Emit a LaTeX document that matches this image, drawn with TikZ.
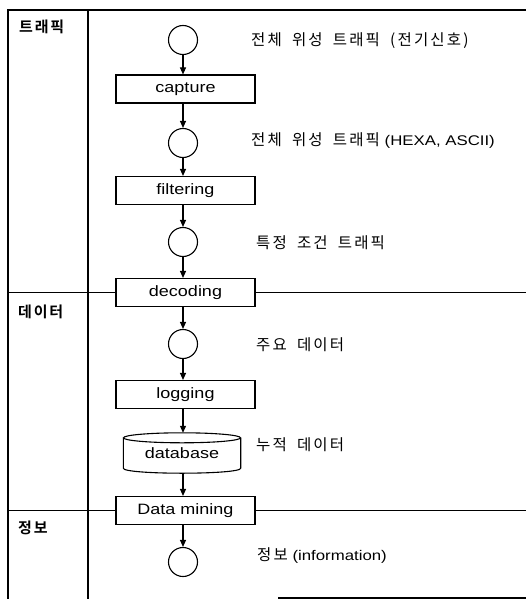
\documentclass[tikz,border=0pt]{standalone}
\usepackage{fontspec}
\setmainfont{Liberation Sans}[FakeStretch=1.2]
\newfontfamily\kr{Noto Sans CJK KR}[LetterSpace=14, WordSpace=1.8]
\newfontfamily\krb{Noto Sans CJK KR Bold}[LetterSpace=12]
\newcommand{\K}[1]{{\kr\fontsize{15.5}{17}\selectfont #1}}
\usetikzlibrary{arrows.meta,calc}
\begin{document}
\begin{tikzpicture}[x=1pt,y=-1pt,
  proc/.style={draw, line width=1.1pt, minimum width=139pt, minimum height=28pt, inner sep=0pt, font=\fontsize{15}{17}\selectfont},
  state/.style={draw, circle, line width=1.1pt, minimum size=29pt, inner sep=0pt},
  lbl/.style={anchor=west, inner sep=0pt, font=\fontsize{14}{16}\selectfont},
  sec/.style={anchor=west, inner sep=0pt, font=\krb\fontsize{15}{17}\selectfont},
  flow/.style={line width=1.1pt, -{Triangle[length=7pt,width=6pt]}},
  rule/.style={line width=1.2pt},
  frame/.style={line width=2.2pt}]
\useasboundingbox (0,0) rectangle (526,599);
% frame
\coordinate (tl) at (8,10);
\coordinate (tr) at (526,10);
\coordinate (bl) at (8,599);
\coordinate (dt) at (88,10);
\coordinate (dbm) at (88,599);
\coordinate (b1) at (278,598);
\coordinate (b2) at (526,598);
\draw[frame] (tr) -- (tl) -- (bl);
\draw[rule] (dt) -- (dbm);
\draw[rule] (b1) -- (b2);
% section labels
\node[sec] (s1) at (19,27) {트래픽};
\node[sec] (s2) at (18,312) {데이터};
\node[sec] (s3) at (18,528) {정보};
% flow nodes
\node[state] (c1) at (183,40) {};
\node[proc] (capture) at (185.5,89) {capture};
\node[state] (c2) at (183,143) {};
\node[proc] (filtering) at (185.5,190.5) {filtering};
\node[state] (c3) at (183,242) {};
\node[proc] (decoding) at (185.5,292.5) {decoding};
\node[state] (c4) at (183,344) {};
\node[proc] (logging) at (185.5,394.5) {logging};
\node[minimum width=117pt, minimum height=40pt, inner sep=0pt, font=\fontsize{15}{17}\selectfont] (db) at (182,453) {database};
\node[proc] (mining) at (185.5,510.5) {Data mining};
\node[state] (c5) at (183,562) {};
% cylinder outline
\draw[line width=1.1pt] ($(db.north)+(0,5)$) ellipse [x radius=58.5, y radius=5];
\draw[line width=1.1pt] ($(db.north west)+(0,5)$) -- ($(db.south west)+(0,-5)$)
  .. controls ($(db.south west)+(0,1.67)$) and ($(db.south east)+(0,1.67)$) .. ($(db.south east)+(0,-5)$)
  -- ($(db.north east)+(0,5)$);
% section rules
\draw[rule] (tl |- decoding) -- (decoding.west);
\draw[rule] (decoding.east) -- (tr |- decoding);
\draw[rule] (tl |- mining) -- (mining.west);
\draw[rule] (mining.east) -- (tr |- mining);
% arrows
\draw[flow] (c1.south) -- (c1.south |- capture.north);
\draw[flow] (c1.south |- capture.south) -- (c2.north);
\draw[flow] (c2.south) -- (c2.south |- filtering.north);
\draw[flow] (c2.south |- filtering.south) -- (c3.north);
\draw[flow] (c3.south) -- (c3.south |- decoding.north);
\draw[flow] (c3.south |- decoding.south) -- (c4.north);
\draw[flow] (c4.south) -- (c4.south |- logging.north);
\draw[flow] (c4.south |- logging.south) -- (c4.south |- db.north);
\draw[flow] (c4.south |- db.south) -- (c4.south |- mining.north);
\draw[flow] (c4.south |- mining.south) -- (c5.north);
% right labels
\node[lbl] (l1) at (251,41) {\K{전체 위성 트래픽 (전기신호)}};
\node[lbl] (l2) at (251,141) {\K{전체 위성 트래픽} (HEXA, ASCII)};
\node[lbl] (l3) at (256,243) {\K{특정 조건 트래픽}};
\node[lbl] (l4) at (256,345) {\K{주요 데이터}};
\node[lbl] (l5) at (256,445) {\K{누적 데이터}};
\node[lbl] (l6) at (257,556) {\K{정보} (information)};
\end{tikzpicture}
\end{document}
